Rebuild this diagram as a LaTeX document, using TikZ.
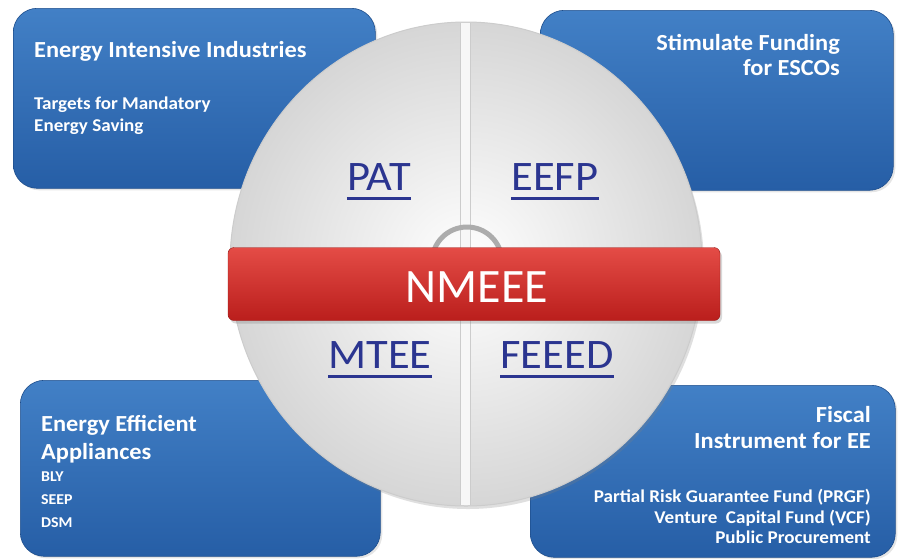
\documentclass[tikz,border=0pt]{standalone}
\usepackage{fontspec}
\setmainfont{Carlito}[FakeStretch=1.06]
\newfontfamily\barfont{Carlito}
\usetikzlibrary{shapes.geometric,shadows,positioning}
\definecolor{paneltop}{RGB}{66,128,198}
\definecolor{panelbottom}{RGB}{38,94,166}
\definecolor{panelrim}{RGB}{30,78,140}
\definecolor{labelnavy}{RGB}{43,53,144}
\definecolor{bartop}{RGB}{228,76,70}
\definecolor{barbottom}{RGB}{186,30,28}
\definecolor{discgray}{RGB}{214,214,214}

\begin{document}
\begin{tikzpicture}[x=1pt, y=-1pt,
    panel/.style={draw=panelrim, line width=0.6pt, rounded corners=24pt,
      top color=paneltop, bottom color=panelbottom, anchor=north west, inner sep=0pt,
      drop shadow={opacity=0.2, shadow xshift=2pt, shadow yshift=-2pt}},
    title/.style={text=white, inner sep=0pt, font=\bfseries\fontsize{23}{25}\selectfont},
    note/.style={text=white, inner sep=0pt, font=\bfseries\fontsize{18}{22}\selectfont},
    disc/.style={ellipse, draw=gray!40, line width=1pt, inner color=white, outer color=discgray,
      drop shadow={opacity=0.25, shadow xshift=2pt, shadow yshift=-3pt}},
    qlabel/.style={text=labelnavy, inner sep=0pt, anchor=base, font=\fontsize{42}{44}\selectfont},
    uline/.style={labelnavy, line width=3pt},
    bar/.style={rounded corners=6pt, top color=bartop, bottom color=barbottom, draw=barbottom!80!black,
      drop shadow={opacity=0.3, shadow xshift=2pt, shadow yshift=-3pt}}]
  \useasboundingbox (0,0) rectangle (902,558);
  \fill[white] (0,0) rectangle (902,558);

  % corner panels
  \node[panel, minimum width=362pt, minimum height=180pt] (industries) at (13,8) {};
  \node[panel, minimum width=353pt, minimum height=180pt] (funding) at (540,10) {};
  \node[panel, minimum width=360pt, minimum height=176pt] (appliances) at (20,380) {};
  \node[panel, minimum width=365pt, minimum height=172pt] (fiscal) at (530,385) {};

  % the disc and its four parts
  \node[disc, minimum width=472pt, minimum height=484pt] (disc) at (466,264) {};
  \begin{scope}
    \clip (466,264) ellipse [x radius=235pt, y radius=241pt];
    \fill[gray!6] (460,0) rectangle (470,558);
    \draw[gray!40, line width=0.8pt] (460,0) -- (460,558) (470,0) -- (470,558);
  \end{scope}
  \foreach \nm/\x/\y/\txt in {pat/379/190/PAT, eefp/555/190/EEFP, mtee/380/368/MTEE, feeed/557/368/FEEED}{
    \node[qlabel] (\nm) at (\x,\y) {\txt};
    \draw[uline] ([yshift=-8pt]\nm.base west) -- ([yshift=-8pt]\nm.base east);
  }

  % hub and bar
  \node[circle, draw=gray!65, line width=5pt, minimum size=70pt] (hub) at (467,262) {};
  \node[bar, minimum width=492pt, minimum height=73pt] (nmeee) at (474,284) {};
  \node[text=white, inner sep=0pt, anchor=base, font=\barfont\fontsize{48}{50}\selectfont] (nmeeetext) at (477,302) {NMEEE};

  % panel texts
  \node[title, anchor=north west] (industriestitle) at (34,41) {Energy Intensive Industries};
  \node[note, anchor=north west, align=left] (industriesnote) at (34,97) {Targets for Mandatory\\Energy Saving};
  \node[title, anchor=north east, align=right] (fundingtitle) at (840,34) {Stimulate Funding\\for ESCOs};
  \node[title, anchor=north west, align=left, font=\bfseries\fontsize{23}{28}\selectfont] (appliancestitle) at (41,415) {Energy Efficient\\Appliances};
  \node[note, anchor=north west, align=left, font=\bfseries\fontsize{15}{23}\selectfont] (appliancesnote) at (41,472) {BLY\\SEEP\\DSM};
  \node[title, anchor=north east, align=right, font=\bfseries\fontsize{23}{26}\selectfont] (fiscaltitle) at (871,406) {Fiscal\\Instrument for EE};
  \node[note, anchor=north east, align=right, font=\bfseries\fontsize{18}{20.5}\selectfont] (fiscalnote) at (871,489) {Partial Risk Guarantee Fund (PRGF)\\Venture~~Capital Fund (VCF)\\Public Procurement};
\end{tikzpicture}
\end{document}
